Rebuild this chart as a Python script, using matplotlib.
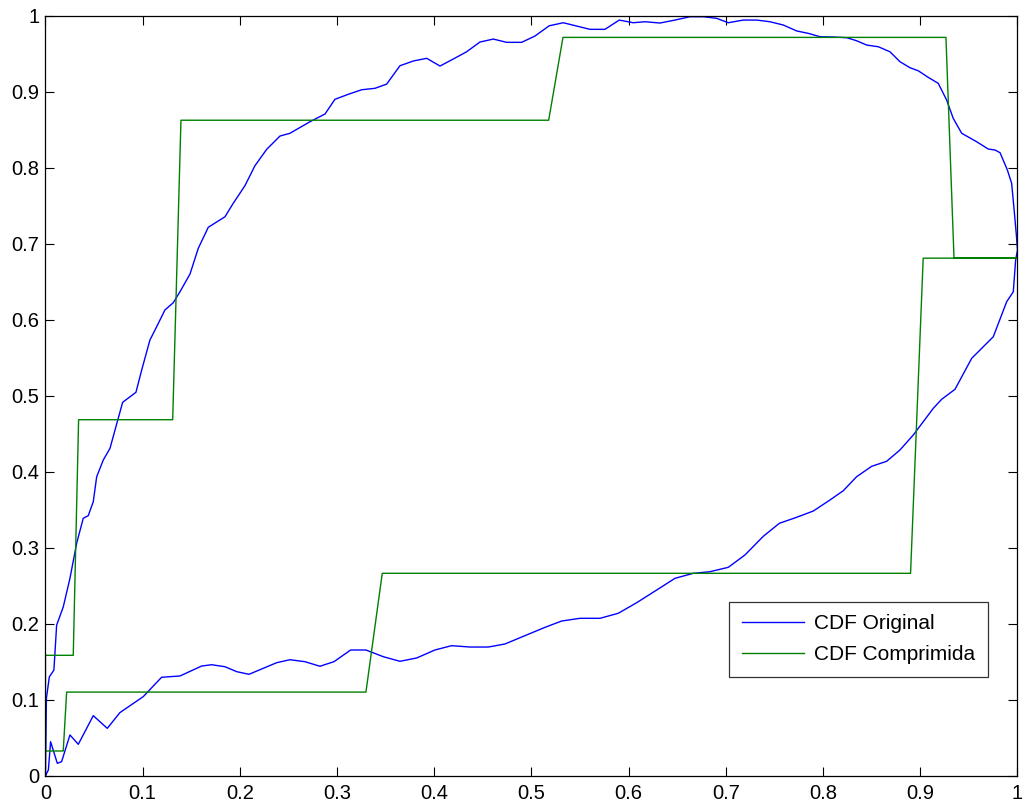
import matplotlib
matplotlib.use("Agg")
import matplotlib.pyplot as plt

# blue curve, upper branch (left to right)
upper_x = [0.0, 0.001, 0.004, 0.0087, 0.0115, 0.0183, 0.0252, 0.0321, 0.0389, 0.044,
           0.0492, 0.0527, 0.0595, 0.0664, 0.0794, 0.0931, 0.099, 0.1051, 0.1075, 0.1144,
           0.1229, 0.1315, 0.1384, 0.1487, 0.1572, 0.1675, 0.1847, 0.1932, 0.2052, 0.2155,
           0.2276, 0.2413, 0.2515, 0.2721, 0.2876, 0.2978, 0.3115, 0.3253, 0.339, 0.351,
           0.3647, 0.3784, 0.3922, 0.4059, 0.4195, 0.4333, 0.447, 0.4607, 0.4745, 0.4899,
           0.5036, 0.5183, 0.5327, 0.5465, 0.5602, 0.5756, 0.5903, 0.6047, 0.6168, 0.6322,
           0.6476, 0.663, 0.6768, 0.6905, 0.7025, 0.7179, 0.7317, 0.7454, 0.759, 0.7728,
           0.7848, 0.7968, 0.8105, 0.8243, 0.8345, 0.8449, 0.8568, 0.8688, 0.8791, 0.8894,
           0.8979, 0.9082, 0.9185, 0.9271, 0.9339, 0.9426, 0.958, 0.9699, 0.9769, 0.9821,
           0.9896, 0.994, 0.9964, 0.999, 1.0]
upper_y = [0.0, 0.102, 0.130, 0.139, 0.198, 0.222, 0.2597, 0.3058, 0.3387, 0.3421,
           0.3605, 0.3934, 0.4154, 0.4308, 0.4913, 0.5045, 0.5338, 0.5624, 0.5733, 0.5908,
           0.6128, 0.6224, 0.6368, 0.6601, 0.6939, 0.7216, 0.7355, 0.7532, 0.7763, 0.8026,
           0.8242, 0.8417, 0.8453, 0.8605, 0.8707, 0.890, 0.8966, 0.9026, 0.9045, 0.910,
           0.9342, 0.9404, 0.944, 0.9338, 0.943, 0.9526, 0.9654, 0.9693, 0.965, 0.965,
           0.9733, 0.9868, 0.9908, 0.9864, 0.9821, 0.9821, 0.9943, 0.9908, 0.9921, 0.9904,
           0.9943, 0.9987, 0.9987, 0.9966, 0.9908, 0.9943, 0.9943, 0.9921, 0.9878, 0.980,
           0.9768, 0.9724, 0.972, 0.9711, 0.9671, 0.9614, 0.9592, 0.9526, 0.9395, 0.9316,
           0.9276, 0.9189, 0.911, 0.8891, 0.865, 0.8453, 0.8342, 0.8246, 0.8233, 0.8197,
           0.797, 0.7795, 0.7466, 0.709, 0.6917]

# blue curve, lower branch (left to right)
lower_x = [0.0, 0.003, 0.0053, 0.0122, 0.0166, 0.0252, 0.0338, 0.0492, 0.0636, 0.0766,
           0.1006, 0.1195, 0.1384, 0.1607, 0.171, 0.1847, 0.1967, 0.2094, 0.2241, 0.2379,
           0.2515, 0.267, 0.2824, 0.2968, 0.314, 0.3297, 0.3475, 0.3647, 0.3819, 0.4007,
           0.4179, 0.4367, 0.4556, 0.4727, 0.495, 0.5139, 0.531, 0.5499, 0.5705, 0.5893,
           0.6082, 0.6288, 0.6476, 0.6665, 0.6836, 0.7025, 0.7196, 0.7385, 0.755, 0.7728,
           0.790, 0.8071, 0.8208, 0.8345, 0.850, 0.8654, 0.8791, 0.8928, 0.9134, 0.922,
           0.9357, 0.9529, 0.9632, 0.9751, 0.9889, 0.9957, 0.9981, 1.0]
lower_y = [0.0, 0.0075, 0.0447, 0.0163, 0.0184, 0.0536, 0.0413, 0.079, 0.0623, 0.083,
           0.104, 0.1295, 0.1312, 0.1443, 0.146, 0.1434, 0.1369, 0.1334, 0.1413, 0.1487,
           0.1526, 0.150, 0.144, 0.150, 0.1654, 0.1654, 0.1566, 0.1505, 0.1549, 0.1654,
           0.1711, 0.1693, 0.1693, 0.1733, 0.1851, 0.1952, 0.2035, 0.2071, 0.2071, 0.2137,
           0.2276, 0.2443, 0.2597, 0.2663, 0.2684, 0.2742, 0.2904, 0.3150, 0.3321, 0.340,
           0.3483, 0.3628, 0.375, 0.3934, 0.4071, 0.4137, 0.4286, 0.4483, 0.4834, 0.4953,
           0.5084, 0.5492, 0.5624, 0.5776, 0.6237, 0.6368, 0.6786, 0.6917]

# green (compressed) curve, in drawing order
comp_x = [0.0, 0.0183, 0.0218, 0.3297, 0.3465, 0.890, 0.903, 1.0,
          0.9347, 0.9264, 0.5324, 0.5177, 0.1394, 0.1309, 0.0341, 0.0286, 0.0, 0.0]
comp_y = [0.0325, 0.0325, 0.110, 0.110, 0.2663, 0.2663, 0.681, 0.681,
          0.681, 0.9715, 0.9715, 0.8625, 0.8625, 0.4684, 0.4684, 0.1584, 0.1584, 0.0325]

ticks = [0, 0.1, 0.2, 0.3, 0.4, 0.5, 0.6, 0.7, 0.8, 0.9, 1]
tick_labels = ["0", "0.1", "0.2", "0.3", "0.4", "0.5", "0.6", "0.7", "0.8", "0.9", "1"]

plt.rcParams['font.family'] = ['Liberation Sans', 'DejaVu Sans']

fig = plt.figure(figsize=(10.26, 8.07), dpi=100)
ax = fig.add_axes([0.0443, 0.0388, 0.9474, 0.9417])

blue_x = upper_x + lower_x[::-1]
blue_y = upper_y + lower_y[::-1]
ax.plot(blue_x, blue_y, color=(0, 0, 1), lw=1.0, label="CDF Original")
ax.plot(comp_x, comp_y, color=(0, 0.5, 0), lw=1.0, label="CDF Comprimida")

ax.set_xlim(0, 1)
ax.set_ylim(0, 1)
ax.set_xticks(ticks)
ax.set_xticklabels(tick_labels)
ax.set_yticks(ticks)
ax.set_yticklabels(tick_labels)
ax.tick_params(direction="in", length=6.5, width=0.8, labelsize=14.5,
               top=True, right=True)
ax.tick_params(axis="x", pad=6)
ax.tick_params(axis="y", pad=4.5)
for s in ax.spines.values():
    s.set_linewidth(0.9)

leg = ax.legend(loc="lower right", bbox_to_anchor=(0.9693, 0.1295), fontsize=15,
                frameon=True, fancybox=False, edgecolor="black", borderaxespad=0,
                handlelength=3.0, handletextpad=0.45, borderpad=0.62, labelspacing=0.57)
leg.get_frame().set_linewidth(0.9)

fig.savefig("out.png", dpi=100)
